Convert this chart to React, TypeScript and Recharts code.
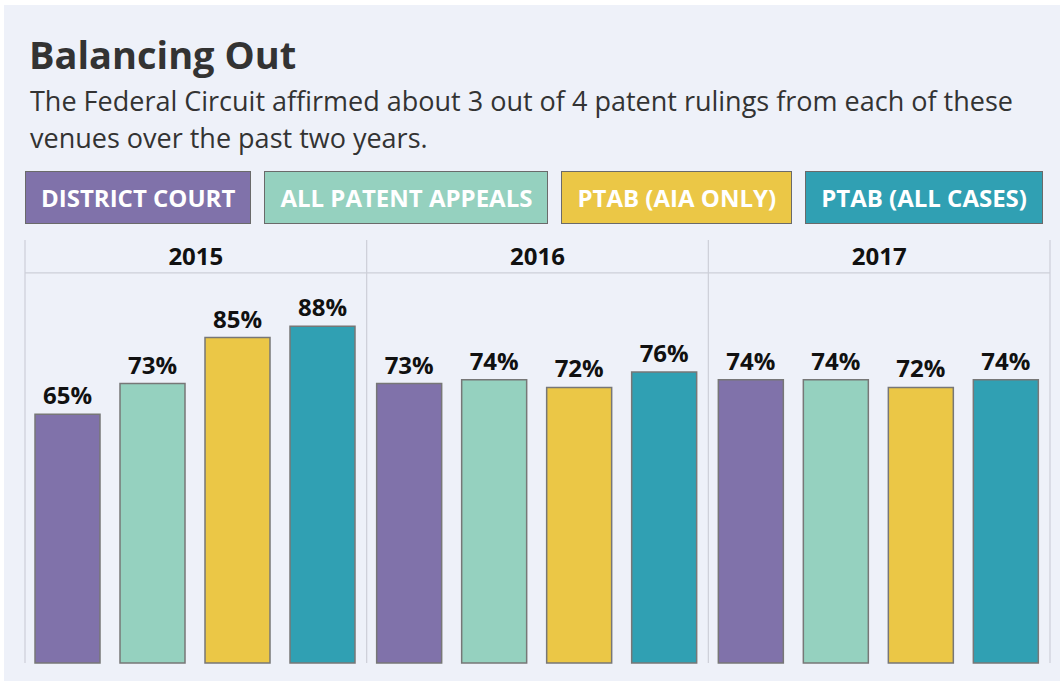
import React from 'react';
import { BarChart, Bar, XAxis, YAxis, LabelList, Legend, ReferenceArea, ReferenceLine } from 'recharts';

const YEARS = ['2015', '2016', '2017'];
const DISTRICT_COURT = [65, 73, 74];
const ALL_PATENT_APPEALS = [73, 74, 74];
const PTAB_AIA_ONLY = [85, 72, 72];
const PTAB_ALL_CASES = [88, 76, 74];
const SERIES_NAMES = ['DISTRICT COURT', 'ALL PATENT APPEALS', 'PTAB (AIA ONLY)', 'PTAB (ALL CASES)'];
const SERIES_KEYS = ['dc', 'all', 'aia', 'ptab'];
const SERIES_COLORS = ['#8072aa', '#95d1bf', '#ebc746', '#30a0b3'];

const Y_MAX = 110.5;
const HEADER_LINE = 101.9;

const data = YEARS.map((year, i) => ({
  year,
  dc: DISTRICT_COURT[i],
  all: ALL_PATENT_APPEALS[i],
  aia: PTAB_AIA_ONLY[i],
  ptab: PTAB_ALL_CASES[i],
}));

const FONT = "'Open Sans', 'Noto Sans', sans-serif";
const GRID = '#cdcfd8';

const LegendContent = (props: any) => {
  const payload = [...(props.payload || [])].sort(
    (a: any, b: any) => SERIES_NAMES.indexOf(a.value) - SERIES_NAMES.indexOf(b.value)
  );
  return (
    <div style={{ display: 'flex', justifyContent: 'space-between', width: '100%' }}>
      {payload.map((p: any) => (
        <div
          key={p.value}
          style={{
            background: p.color,
            border: '1px solid #6a6a6a',
            height: 51,
            display: 'flex',
            alignItems: 'center',
            padding: '0 15px',
            color: '#fff',
            fontWeight: 700,
            fontSize: 24,
            fontFamily: FONT,
            whiteSpace: 'nowrap',
          }}
        >
          {p.value}
        </div>
      ))}
    </div>
  );
};

export default function App() {
  return (
    <div style={{ position: 'absolute', left: 0, top: 0, width: 1060, height: 681, background: '#fff', fontFamily: FONT, overflow: 'hidden' }}>
      <div style={{ position: 'absolute', left: 4, top: 5, right: 0, bottom: 0, background: '#eef1f9' }} />
      <div style={{ position: 'absolute', left: 29, top: 35, fontSize: 38, lineHeight: '38px', fontWeight: 700, color: '#333', whiteSpace: 'nowrap' }}>
        Balancing Out
      </div>
      <div style={{ position: 'absolute', left: 30, top: 82, fontSize: 27, lineHeight: '37px', color: '#333', whiteSpace: 'nowrap' }}>
        The Federal Circuit affirmed about 3 out of 4 patent rulings from each of these
        <br />
        venues over the past two years.
      </div>
      <div style={{ position: 'absolute', left: 0, top: 0 }}>
        <BarChart
          width={1060}
          height={681}
          data={data}
          margin={{ top: 240, right: 10, bottom: 18, left: 25 }}
          barGap={20}
          barCategoryGap={10}
        >
          <XAxis
            dataKey="year"
            height={0}
            tick={false}
            tickLine={false}
            axisLine={{ stroke: '#666', strokeWidth: 3 }}
          />
          <YAxis type="number" domain={[0, Y_MAX]} hide />
          {YEARS.map((y) => (
            <ReferenceLine key={`s-${y}`} x={y} position="start" stroke={GRID} strokeWidth={1.2} />
          ))}
          <ReferenceLine x={YEARS[YEARS.length - 1]} position="end" stroke={GRID} strokeWidth={1.2} />
          <ReferenceLine y={HEADER_LINE} stroke={GRID} strokeWidth={1.2} />
          {YEARS.map((y) => (
            <ReferenceArea
              key={y}
              x1={y}
              x2={y}
              y1={HEADER_LINE}
              y2={Y_MAX}
              fill="transparent"
              stroke="none"
              label={{ value: y, position: 'center', fill: '#111', fontSize: 24, fontWeight: 700 }}
            />
          ))}
          <Legend
            layout="horizontal"
            verticalAlign="middle"
            align="center"
            wrapperStyle={{ top: 171, left: 25, width: 1018 }}
            content={<LegendContent />}
          />
          {SERIES_KEYS.map((k, i) => (
            <Bar
              key={k}
              dataKey={k}
              name={SERIES_NAMES[i]}
              fill={SERIES_COLORS[i]}
              stroke="#777"
              strokeWidth={1.5}
              isAnimationActive={false}
            >
              <LabelList
                dataKey={k}
                position="top"
                offset={10}
                formatter={(v: any) => `${v}%`}
                fill="#111"
                fontSize={24}
                fontWeight={700}
              />
            </Bar>
          ))}
        </BarChart>
      </div>
    </div>
  );
}
